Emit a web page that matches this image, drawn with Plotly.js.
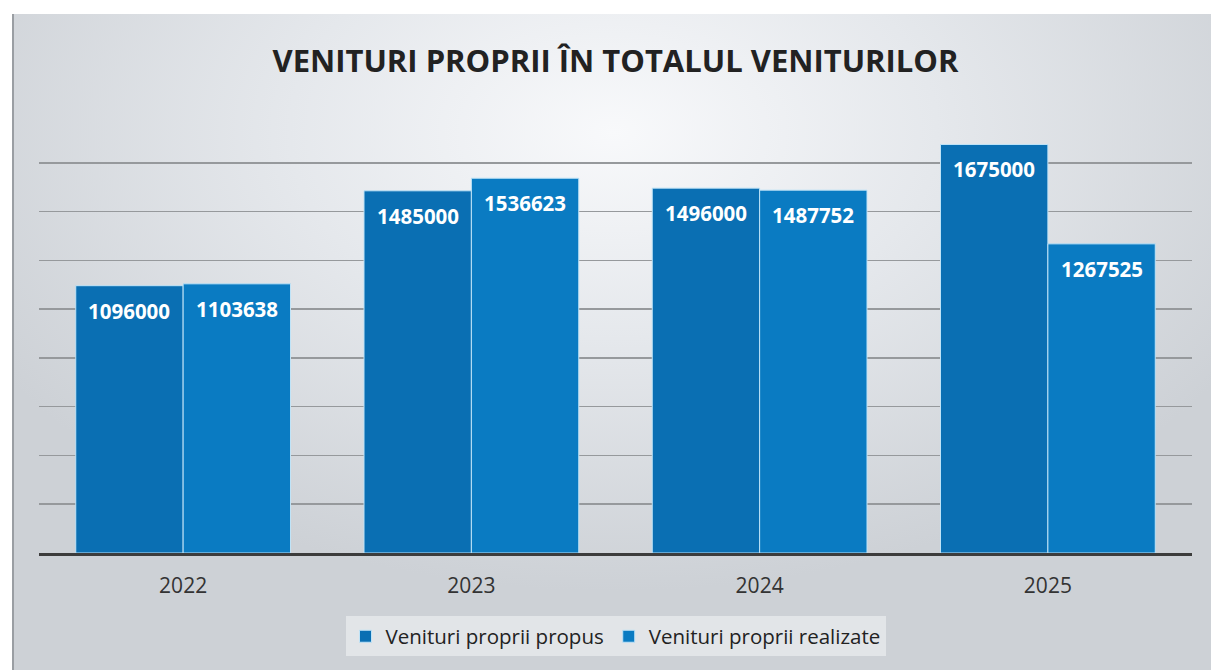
<!DOCTYPE html>
<html>
<head>
<meta charset="utf-8">
<script src="https://cdn.plot.ly/plotly-3.0.1.min.js"></script>
<style>
html,body{margin:0;padding:0;}
body{width:1211px;height:670px;overflow:hidden;background:#fff;}
#wrap{position:absolute;left:12px;top:14px;width:1199px;height:656px;
background:radial-gradient(ellipse 60% 70% at 50% 18%, #f8f9fb 0%, #e5e8ec 45%, #cdd1d6 100%);
border-left:2px solid #9a9ea3;}
#chart{position:absolute;left:0;top:0;width:1211px;height:670px;}
</style>
</head>
<body>
<div id="wrap"></div>
<div id="chart"></div>
<script>
const years = ['2022', '2023', '2024', '2025'];
const propus = [1096000, 1485000, 1496000, 1675000];
const realizate = [1103638, 1536623, 1487752, 1267525];
const seriesNames = ['Venituri proprii propus', 'Venituri proprii realizate'];

const FONT = 'Open Sans, sans-serif';
const labelFont = {family: FONT, size: 20.5, color: '#ffffff', weight: 700};

const traces = [
  {type: 'bar', name: seriesNames[0], x: years, y: propus,
   marker: {color: '#0a6fb3', line: {color: '#bfe3f7', width: 1}}, hoverinfo: 'skip'},
  {type: 'bar', name: seriesNames[1], x: years, y: realizate,
   marker: {color: '#0a7bc2', line: {color: '#bfe3f7', width: 1}}, hoverinfo: 'skip'}
];

// value labels placed inside the top of each bar (x given as category index)
const halfBar = 53.7;
const annotations = [];
[propus, realizate].forEach((vals, s) => {
  vals.forEach((v, i) => {
    annotations.push({x: i, y: v, xref: 'x', yref: 'y', text: '<b>' + v + '</b>',
      showarrow: false, xshift: s === 0 ? -halfBar : halfBar, yshift: -25,
      yanchor: 'middle', font: labelFont});
  });
});

const layout = {
  width: 1211, height: 670,
  paper_bgcolor: 'rgba(0,0,0,0)', plot_bgcolor: 'rgba(0,0,0,0)',
  margin: {l: 39, r: 19, t: 114, b: 117},
  barmode: 'group', bargap: 0.255, bargroupgap: 0,
  title: {text: '<b>VENITURI PROPRII ÎN TOTALUL VENITURILOR</b>', x: 0.5, xref: 'paper',
          y: 1 - 61/670, yanchor: 'middle',
          font: {family: FONT, size: 31, color: '#222222'}},
  xaxis: {type: 'category', range: [-0.5, years.length - 0.5], autorange: false,
          showline: true, linecolor: '#3c3c3c', linewidth: 3,
          ticks: '', showgrid: false, ticklabelstandoff: 12,
          tickfont: {family: FONT, size: 21, color: '#333333'}},
  yaxis: {range: [0, 1800000], autorange: false, dtick: 200000, showticklabels: false,
          showgrid: true, gridcolor: '#96999c', gridwidth: 1.6, zeroline: false,
          fixedrange: true},
  legend: {orientation: 'h', x: 0.5, xanchor: 'center', y: -0.19, yanchor: 'middle',
           bgcolor: 'rgba(232,235,238,0.75)',
           font: {family: FONT, size: 20.5, color: '#222222'}},
  annotations: annotations,
  showlegend: true
};

Plotly.newPlot('chart', traces, layout, {displayModeBar: false, staticPlot: true});
</script>
</body>
</html>
